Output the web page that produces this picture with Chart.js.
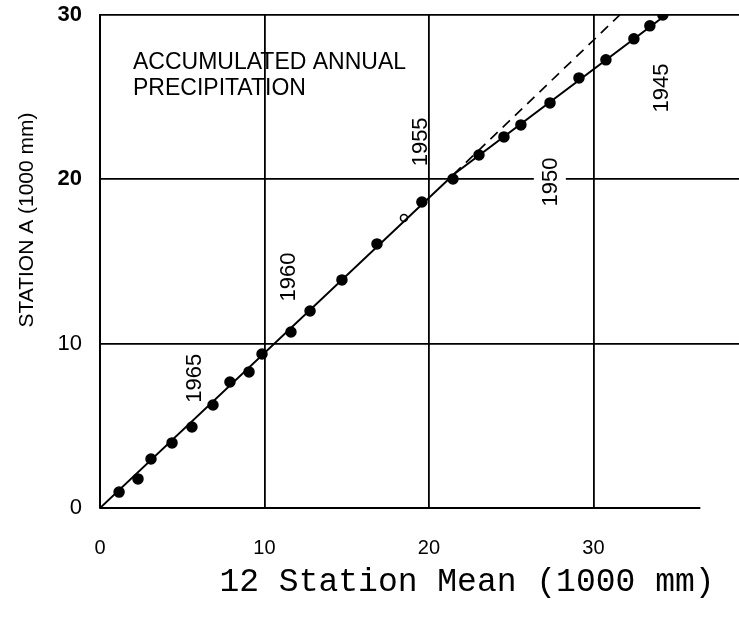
<!DOCTYPE html>
<html>
<head>
<meta charset="utf-8">
<script src="https://cdn.jsdelivr.net/npm/chart.js@4.4.1/dist/chart.umd.min.js"></script>
<style>
  html, body { margin: 0; padding: 0; background: #fff; }
  #wrap { width: 739px; height: 624px; }
</style>
</head>
<body>
<div id="wrap"><canvas id="massChart" width="739" height="624"></canvas></div>
<script>
// Double mass curve: station A against the 12 station mean

const years = [1969, 1968, 1967, 1966, 1965, 1964, 1963, 1962, 1961, 1960, 1959, 1958, 1957,
    1956, 1955, 1954, 1953, 1952, 1951, 1950, 1949, 1948, 1947, 1946, 1945];
const stationMean = [1.16, 2.31, 3.10, 4.38, 5.59, 6.87, 7.90, 9.06, 9.85, 11.61, 12.77, 14.71, 16.84,
    18.48, 19.57, 21.46, 23.04, 24.56, 25.59, 27.36, 29.12, 30.76, 32.46, 33.43, 34.22];
const stationA = [0.97, 1.77, 2.98, 3.96, 4.93, 6.27, 7.67, 8.28, 9.37, 10.71, 11.99, 13.88, 16.07,
    17.65, 18.62, 20.02, 21.48, 22.58, 23.31, 24.65, 26.17, 27.27, 28.55, 29.34, 30.0];
const openYears = [1956];

// fitted segments (break of slope) and the extrapolated older slope
const trendX = [0, 21.5, 34.4];
const trendY = [0, 20.3, 30];
const dashX = [21.5, 31.6];
const dashY = [20.3, 30];

const yearLabels = ['1965', '1960', '1955', '1950', '1945'];
const yearLabelX = [5.7, 11.4, 19.45, 27.35, 34.1];
const yearLabelY = [7.9, 14.06, 22.28, 19.84, 25.56];
// only the 1950 label sits over a grid line and blanks it out
const yearLabelMask = [false, false, false, true, false];

const xTicks = [0, 10, 20, 30];
const yTicks = [0, 10, 20, 30];
const xMax = 38.85;
const xAxisEnd = 36.5;

const toXY = (xs, ys) => xs.map((x, i) => ({ x: x, y: ys[i] }));

const annotatePlugin = {
    id: 'annotate',
    beforeDatasetsDraw(chart) {
        const { ctx, scales: { x, y } } = chart;
        ctx.save();
        // bottom axis stops short of the right edge
        ctx.strokeStyle = '#000';
        ctx.lineWidth = 2;
        ctx.beginPath();
        ctx.moveTo(x.getPixelForValue(0), y.getPixelForValue(0));
        ctx.lineTo(x.getPixelForValue(xAxisEnd), y.getPixelForValue(0));
        ctx.stroke();

        ctx.font = '22px "Liberation Sans", Arial, sans-serif';
        ctx.textAlign = 'center';
        ctx.textBaseline = 'middle';
        yearLabels.forEach((label, i) => {
            const px = x.getPixelForValue(yearLabelX[i]);
            const py = y.getPixelForValue(yearLabelY[i]);
            ctx.save();
            ctx.translate(px, py);
            ctx.rotate(-Math.PI / 2);
            if (yearLabelMask[i]) {
                const w = ctx.measureText(label).width;
                ctx.fillStyle = '#fff';
                ctx.fillRect(-w / 2 - 4, -16, w + 8, 32);
            }
            ctx.fillStyle = '#000';
            ctx.fillText(label, 0, 1);
            ctx.restore();
        });

        ctx.textAlign = 'left';
        ctx.textBaseline = 'alphabetic';
        ctx.font = '23px "Liberation Sans", Arial, sans-serif';
        ctx.fillText('ACCUMULATED ANNUAL', 133, 69);
        ctx.fillText('PRECIPITATION', 133, 95);

        // axis titles
        ctx.save();
        ctx.translate(27, 220);
        ctx.rotate(-Math.PI / 2);
        ctx.textAlign = 'center';
        ctx.textBaseline = 'middle';
        ctx.font = '21px "Liberation Sans", Arial, sans-serif';
        ctx.fillText('STATION A (1000 mm)', 0, 0);
        ctx.restore();

        ctx.textAlign = 'center';
        ctx.textBaseline = 'middle';
        ctx.font = '33px "Liberation Mono", "Courier New", monospace';
        ctx.fillText('12 Station Mean (1000 mm)', 467, 582);
        ctx.restore();
    }
};

const chart = new Chart(document.getElementById('massChart'), {
    type: 'scatter',
    data: {
        datasets: [{
            type: 'line',
            data: toXY(trendX, trendY),
            borderColor: '#000',
            borderWidth: 2,
            pointRadius: 0,
            fill: false
        }, {
            type: 'line',
            data: toXY(dashX, dashY),
            borderColor: '#000',
            borderWidth: 1.7,
            borderDash: [10, 7],
            pointRadius: 0,
            fill: false
        }, {
            data: toXY(stationMean, stationA),
            pointRadius: ctx => openYears.includes(years[ctx.dataIndex]) ? 3.5 : 5,
            pointBackgroundColor: ctx => openYears.includes(years[ctx.dataIndex]) ? '#fff' : '#000',
            pointBorderColor: '#000',
            pointBorderWidth: 1.5
        }]
    },
    options: {
        responsive: false,
        animation: false,
        layout: {
            autoPadding: false,
            padding: { top: 15, right: 0, bottom: 0, left: 0 }
        },
        plugins: {
            legend: { display: false },
            tooltip: { enabled: false }
        },
        scales: {
            x: {
                type: 'linear',
                min: 0,
                max: xMax,
                afterBuildTicks: s => { s.ticks = xTicks.map(v => ({ value: v })); },
                afterFit: s => {
                    s.height = 116;
                    s.paddingLeft = 0;
                    s.paddingRight = 0;
                },
                border: { display: false },
                grid: {
                    color: ctx => ctx.tick && ctx.tick.value === 0 ? 'rgba(0,0,0,0)' : '#000',
                    lineWidth: 1.8,
                    drawTicks: false
                },
                ticks: {
                    padding: 28,
                    color: '#000',
                    font: { family: '"Liberation Sans", Arial, sans-serif', size: 20 }
                }
            },
            y: {
                type: 'linear',
                min: 0,
                max: 30,
                afterBuildTicks: s => { s.ticks = yTicks.map(v => ({ value: v })); },
                afterFit: s => {
                    s.width = 100;
                    s.paddingTop = 0;
                    s.paddingBottom = 0;
                },
                border: { display: true, color: '#000', width: 2 },
                grid: {
                    color: ctx => ctx.tick && ctx.tick.value === 0 ? 'rgba(0,0,0,0)' : '#000',
                    lineWidth: 1.8,
                    drawTicks: false
                },
                ticks: {
                    padding: 18,
                    color: '#000',
                    font: ctx => ({
                        family: '"Liberation Sans", Arial, sans-serif',
                        size: 22,
                        weight: ctx.tick && ctx.tick.value >= 20 ? 'bold' : 'normal'
                    })
                }
            }
        }
    },
    plugins: [annotatePlugin]
});
</script>
</body>
</html>
